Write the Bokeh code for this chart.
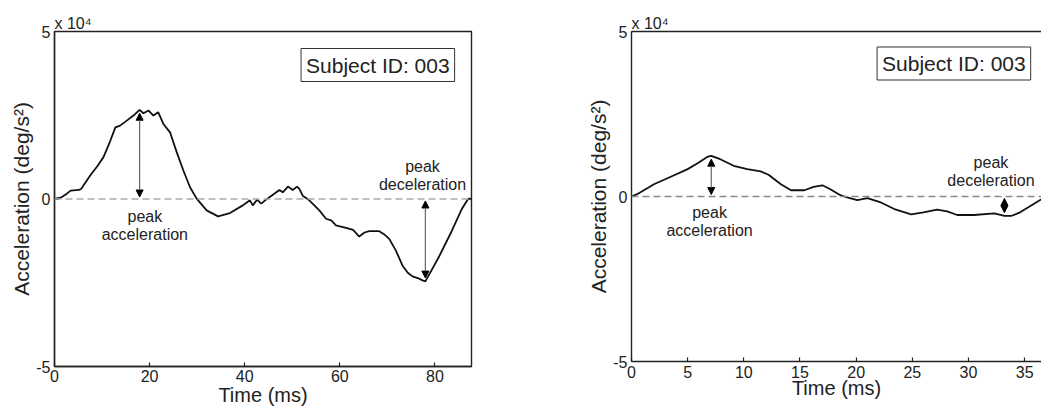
from bokeh.plotting import figure
from bokeh.models import Range1d, FixedTicker, Label, Arrow, NormalHead, Span, LinearAxis
from bokeh.layouts import row
from bokeh.embed import file_html
from bokeh.resources import INLINE

FONT = "Liberation Sans"

# ---- data (acceleration in units of 1e4 deg/s^2) ----
left_time_ms = [0, 1.3, 2.6, 3.4, 5.1, 5.6, 7.5, 9.0, 10.3, 11.5, 12.8, 13.8, 15.2, 16.6, 17.9,
                18.7, 19.8, 20.8, 21.8, 22.9, 24.3, 25.7, 27.1, 28.5, 29.9, 32.0, 34.4, 36.9,
                39.6, 40.3, 41.1, 41.7, 42.6, 43.5, 44.3, 45.2, 47.3, 48.0, 49.1, 50.1, 51.0,
                51.5, 52.2, 53.6, 55.7, 57.1, 58.2, 59.2, 61.3, 62.8, 64.1, 65.2, 66.2, 68.3,
                69.3, 70.4, 71.8, 73.2, 74.3, 75.3, 76.4, 77.4, 78.0, 78.7, 80.8, 83.6, 85.7,
                87.0, 87.7]
left_accel = [0, 0.04, 0.16, 0.25, 0.27, 0.30, 0.70, 0.98, 1.25, 1.65, 2.14, 2.19, 2.34, 2.49, 2.66,
              2.56, 2.64, 2.49, 2.59, 2.24, 1.99, 1.40, 0.85, 0.35, 0.01, -0.34, -0.52, -0.42,
              -0.19, -0.12, -0.04, -0.19, -0.02, -0.14, -0.04, 0.05, 0.27, 0.20, 0.37, 0.27, 0.37,
              0.30, 0.10, -0.04, -0.34, -0.59, -0.64, -0.79, -0.86, -0.92, -1.12, -1.00, -0.96, -0.96,
              -1.05, -1.19, -1.54, -1.99, -2.20, -2.31, -2.36, -2.43, -2.46, -2.28, -1.74, -0.94, -0.29,
              0.01, 0.0]

right_time_ms = [0, 0.5, 2.0, 3.5, 5.0, 5.85, 6.74, 7.1, 7.9, 9.1, 10.3, 11.5, 12.2, 13.3, 14.2,
                 15.4, 16.2, 17.0, 17.7, 18.6, 19.2, 20.1, 21.0, 22.2, 23.4, 24.9, 26.0, 27.2,
                 28.1, 29.0, 30.5, 32.3, 33.2, 33.8, 34.6, 35.8, 36.5]
right_accel = [0.0, 0.07, 0.37, 0.60, 0.83, 1.0, 1.20, 1.23, 1.13, 0.93, 0.83, 0.76, 0.66, 0.37, 0.19,
               0.19, 0.29, 0.34, 0.22, 0.04, -0.03, -0.11, -0.05, -0.18, -0.38, -0.54, -0.48, -0.40,
               -0.45, -0.56, -0.56, -0.51, -0.59, -0.59, -0.48, -0.23, -0.08]

left_xticks = [0, 20, 40, 60, 80]
right_xticks = [0, 5, 10, 15, 20, 25, 30, 35]
y_ticks = [-5, 0, 5]
y_tick_labels = {-5: "-5", 0: "0", 5: "5"}
subject_text = "Subject ID: 003"
exponent_text = "x 10\u2074"


def panel(t, v, x_end, xticks, width, mb_left, mb_right, mb_top, mb_bottom, box_xy,
          acc_txt_xy, dec_txt_xy, dash_color, x_lab_std, x_ax_std, outline=True):
    p = figure(width=width, height=410, x_range=Range1d(0, x_end), y_range=Range1d(-5, 5),
               output_backend="svg", toolbar_location=None,
               min_border_left=mb_left, min_border_right=mb_right,
               min_border_top=mb_top, min_border_bottom=mb_bottom)
    p.frame_align = False
    p.grid.visible = False
    p.background_fill_color = "white"
    p.border_fill_color = "white"
    if outline:
        p.outline_line_color = "#222222"
        p.outline_line_width = 1.4
        p.outline_line_alpha = 1
    else:
        p.outline_line_color = None

    p.title.text = exponent_text
    p.title.align = "left"
    p.title.text_font = FONT
    p.title.text_font_size = "16px"
    p.title.text_font_style = "normal"
    p.title.text_color = "#222222"
    p.title.standoff = 0
    p.title.offset = 0

    p.xaxis.ticker = FixedTicker(ticks=xticks)
    p.yaxis.ticker = FixedTicker(ticks=y_ticks)
    p.yaxis.major_label_overrides = y_tick_labels
    for ax in (p.xaxis, p.yaxis):
        ax.major_tick_in = 4
        ax.major_tick_out = 0
        ax.minor_tick_line_color = None
        ax.axis_line_color = "#222222"
        ax.axis_line_width = 1.4
        ax.major_tick_line_color = "#222222"
        ax.major_tick_line_width = 1.2
        ax.major_label_text_font = FONT
        ax.major_label_text_font_size = "16px"
        ax.major_label_text_color = "#222222"
        ax.axis_label_text_font = FONT
        ax.axis_label_text_font_style = "normal"
        ax.axis_label_text_color = "#222222"
        ax.axis_label_text_font_size = "20px"
    p.yaxis.axis_label_text_font_size = "21px"
    p.xaxis.axis_label = "Time (ms)"
    p.yaxis.axis_label = "Acceleration (deg/s\u00b2)"
    p.xaxis.major_label_standoff = x_lab_std
    p.xaxis.axis_label_standoff = x_ax_std
    p.yaxis.major_label_standoff = 4
    p.yaxis.axis_label_standoff = 0

    if not outline:
        top = LinearAxis(ticker=FixedTicker(ticks=[]), axis_line_color="#222222",
                         axis_line_width=1.4, major_tick_line_color=None,
                         minor_tick_line_color=None)
        p.add_layout(top, "above")

    p.add_layout(Span(location=0, dimension="width", line_color=dash_color,
                      line_width=1.5, line_dash="7 4"))

    p.line(t, v, line_color="#111111", line_width=1.8)

    # arrows at the peaks, built from the data
    i_max = max(range(len(v)), key=lambda i: v[i])
    i_min = min(range(len(v)), key=lambda i: v[i])
    for i, sgn in ((i_max, 1), (i_min, -1)):
        p.add_layout(Arrow(x_start=t[i], y_start=0.06 * sgn, x_end=t[i], y_end=v[i] - 0.1 * sgn,
                           line_color="#666666", line_width=1.2,
                           start=NormalHead(size=7, fill_color="black", line_color="black"),
                           end=NormalHead(size=7, fill_color="black", line_color="black")))

    def txt(x, y, s, size="16px", **kw):
        lab = Label(x=x, y=y, text=s, text_font=FONT, text_font_size=size,
                    text_color="#222222", text_align="center", text_baseline="middle", **kw)
        p.add_layout(lab)

    txt(acc_txt_xy[0], acc_txt_xy[1], "peak")
    txt(acc_txt_xy[0], acc_txt_xy[1] - 0.54, "acceleration")
    txt(dec_txt_xy[0], dec_txt_xy[1], "peak")
    txt(dec_txt_xy[0], dec_txt_xy[1] - 0.54, "deceleration")

    txt(box_xy[0], box_xy[1], subject_text, size="21px",
        background_fill_color="white", border_line_color="#333333", border_line_width=1,
        padding=5)
    return p


p1 = panel(left_time_ms, left_accel, 87.7, left_xticks, 520, 54, 49, 31, 44,
           (68.0, 4.0), (19.0, -0.51), (77.4, 0.98), "#aaaaaa", 3, -1, outline=True)
p2 = panel(right_time_ms, right_accel, 36.5, right_xticks, 521, 111, 0, 31, 49,
           (28.7, 4.03), (6.95, -0.48), (32.0, 1.03), "#888888", 4, -4, outline=False)

layout = row(p1, p2)
open("out.html", "w").write(file_html(layout, INLINE))
